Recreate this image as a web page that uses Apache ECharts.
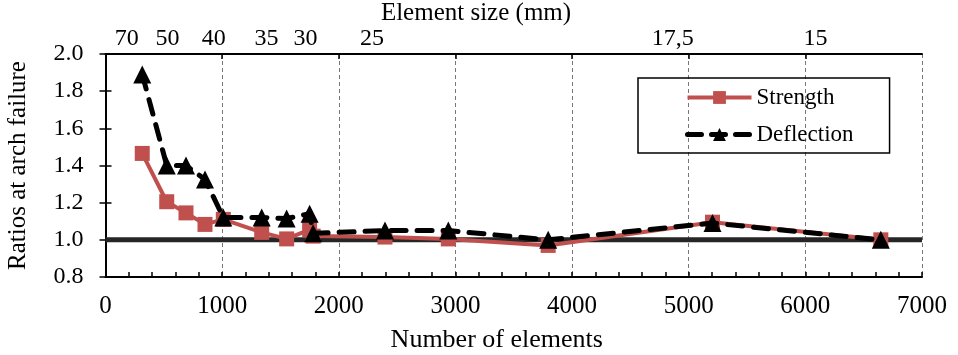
<!DOCTYPE html>
<html>
<head>
<meta charset="utf-8">
<script src="https://cdn.jsdelivr.net/npm/echarts@6/dist/echarts.min.js"></script>
<style>html,body{margin:0;padding:0;background:#fff}#c{width:958px;height:355px}</style>
</head>
<body>
<div id="c"></div>
<script>
// Data
var strengthN = [315, 525, 690, 853, 1010, 1339, 1553, 1750, 1780, 2396, 2939, 3795, 5204, 6647];
var strengthV = [1.465, 1.205, 1.145, 1.083, 1.11, 1.04, 1.005, 1.055, 1.02, 1.015, 1.005, 0.97, 1.095, 1.0];
var deflectionN = [315, 525, 690, 853, 1010, 1339, 1553, 1750, 1780, 2396, 2939, 3795, 5204, 6647];
var deflectionV = [1.89, 1.40, 1.40, 1.325, 1.12, 1.12, 1.115, 1.14, 1.035, 1.05, 1.05, 1.0, 1.09, 1.0];
var refValue = 1.0;
var sizeTickPos = [182, 532, 929, 1381, 1714, 2284, 4864, 6087];
var sizeTickLabels = ['70', '50', '40', '35', '30', '25', '17,5', '15'];
var xTicks = [0, 1000, 2000, 3000, 4000, 5000, 6000, 7000];
var yTicks = [0.8, 1.0, 1.2, 1.4, 1.6, 1.8, 2.0];

var FONT = 'Liberation Serif';
var RED = '#c0504d';
function pairs(xs, ys) { return xs.map(function (x, i) { return [x, ys[i]]; }); }

var chart = echarts.init(document.getElementById('c'), null, { renderer: 'canvas' });
var axisLine = { show: true, lineStyle: { color: '#000', width: 2 } };
chart.setOption({
  animation: false,
  backgroundColor: '#fff',
  textStyle: { fontFamily: FONT },
  title: {
    text: 'Element size (mm)', left: 476, top: 1, textAlign: 'center', padding: 0,
    textStyle: { fontFamily: FONT, fontSize: 25, fontWeight: 'normal', color: '#000' }
  },
  grid: { left: 105.5, right: 36, top: 54, bottom: 78, containLabel: false, outerBoundsMode: 'none' },
  legend: {
    orient: 'vertical',
    left: 638, top: 78,
    data: [
      { name: 'Strength', lineStyle: { width: 4, color: RED }, itemStyle: { color: RED } },
      { name: 'Deflection', lineStyle: { width: 5, color: '#000', type: [14, 10] }, itemStyle: { color: '#000' } }
    ],
    itemWidth: 64, itemHeight: 16,
    itemGap: 14,
    padding: [8, 36, 7, 47],
    borderColor: '#000', borderWidth: 1.5,
    textStyle: { fontFamily: FONT, fontSize: 23, color: '#000' }
  },
  xAxis: [
    {
      type: 'value', position: 'bottom', min: xTicks[0], max: xTicks[xTicks.length - 1], interval: 1000,
      name: 'Number of elements', nameLocation: 'middle', nameGap: 50,
      nameTextStyle: { fontFamily: FONT, fontSize: 26, color: '#000', padding: [0, 34, 0, 0] },
      axisLine: axisLine,
      axisTick: { show: true, inside: true, length: 5, lineStyle: { color: '#000', width: 1.5 } },
      minorTick: { show: true, splitNumber: 5, length: 5, lineStyle: { color: '#000', width: 1.5 } },
      axisLabel: { fontFamily: FONT, fontSize: 25, color: '#000', margin: 17, formatter: function (v) { return String(v); } },
      splitLine: { show: true, lineStyle: { color: '#777', type: [4, 3], width: 1 } }
    },
    {
      type: 'value', position: 'top', min: xTicks[0], max: xTicks[xTicks.length - 1],
      axisLine: axisLine,
      axisTick: { show: true, inside: true, length: 5, customValues: xTicks.slice(1, 7), lineStyle: { color: '#000', width: 1.5 } },
      axisLabel: {
        fontFamily: FONT, fontSize: 24, color: '#000', margin: 3,
        customValues: sizeTickPos,
        formatter: function (v) { var i = sizeTickPos.indexOf(v); return i >= 0 ? sizeTickLabels[i] : ''; }
      },
      splitLine: { show: false }
    }
  ],
  yAxis: [
    {
      type: 'value', position: 'left', min: yTicks[0], max: yTicks[yTicks.length - 1], interval: 0.2,
      name: 'Ratios at arch failure', nameLocation: 'middle', nameGap: 75,
      nameTextStyle: { fontFamily: FONT, fontSize: 25, color: '#000' },
      axisLine: axisLine,
      axisTick: { show: true, inside: true, length: 6, lineStyle: { color: '#000', width: 1.5 } },
      axisLabel: { fontFamily: FONT, fontSize: 24, color: '#000', margin: 22, formatter: function (v) { return v.toFixed(1); } },
      splitLine: { show: false }
    },
    {
      type: 'value', position: 'right', min: yTicks[0], max: yTicks[yTicks.length - 1], interval: 0.2,
      axisLine: axisLine,
      axisTick: { show: true, inside: true, length: 6, lineStyle: { color: '#000', width: 1.5 } },
      axisLabel: { show: false },
      splitLine: { show: false }
    }
  ],
  series: [
    {
      name: 'ref', type: 'line', z: 1, silent: true,
      data: [[xTicks[0], refValue], [xTicks[xTicks.length - 1], refValue]],
      symbol: 'none', lineStyle: { color: '#262626', width: 5 }
    },
    {
      name: 'Strength', type: 'line', z: 2,
      data: pairs(strengthN, strengthV),
      symbol: 'rect', symbolSize: 15,
      itemStyle: { color: RED },
      lineStyle: { color: RED, width: 4 }
    },
    {
      name: 'Deflection', type: 'line', z: 3,
      data: pairs(deflectionN, deflectionV),
      symbol: 'triangle', symbolSize: 18,
      itemStyle: { color: '#000' },
      lineStyle: { color: '#000', width: 5, type: [15, 11], cap: 'round' }
    }
  ]
});
</script>
</body>
</html>
